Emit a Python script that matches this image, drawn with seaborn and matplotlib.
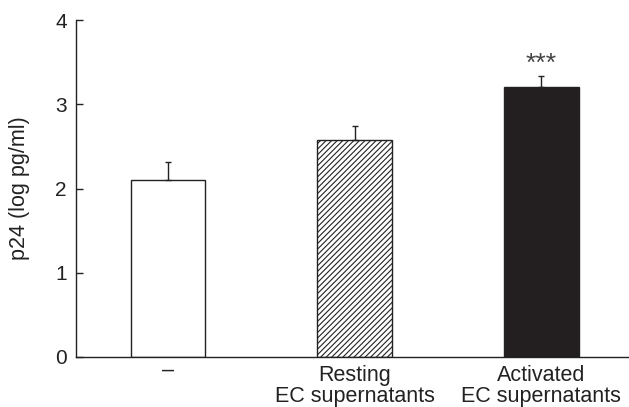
import matplotlib
matplotlib.use("Agg")
import matplotlib.pyplot as plt
import matplotlib.transforms as mtransforms
import seaborn as sns
import pandas as pd
import numpy as np

categories = ["\u2013", "Resting\nEC supernatants", "Activated\nEC supernatants"]
means = [2.10, 2.575, 3.21]
errors = [0.22, 0.17, 0.13]
fills = ["white", "white", "#231f20"]
hatches = ["", "//////", ""]
yticks = [0, 1, 2, 3, 4]
signif = "***"

sns.set_theme(style="ticks")
plt.rcParams["font.family"] = ["Liberation Sans", "DejaVu Sans"]
plt.rcParams["hatch.linewidth"] = 0.8

df = pd.DataFrame({"cat": categories, "val": means})

fig = plt.figure(figsize=(6.29, 4.07), dpi=100)
ax = fig.add_axes([76 / 629, 50 / 407, 1 - 76 / 629, 337 / 407])

sns.barplot(data=df, x="cat", y="val", ax=ax, width=0.4, errorbar=None,
            edgecolor="#222222", linewidth=1.0)
for bar, fc, h in zip(ax.patches, fills, hatches):
    bar.set_facecolor(fc)
    bar.set_hatch(h)
    bar.set_edgecolor("#222222")

x = np.arange(len(categories))
ax.errorbar(x, means, yerr=[np.zeros(len(errors)), errors], fmt="none",
            ecolor="#222222", elinewidth=1.0, capsize=2.5, capthick=1.0, zorder=1)

ax.text(2, means[2] + errors[2] + 0.055, signif, ha="center", va="baseline",
        fontsize=19, color="#444444")

ax.set_ylim(0, 4)
ax.set_xlim(-0.493, 2.47)
ax.set_yticks(yticks)
ax.set_yticklabels([str(t) for t in yticks])
ax.set_xlabel("")
ax.set_ylabel("p24 (log pg/ml)", fontsize=15.5, color="#222222", labelpad=18)
ax.tick_params(axis="y", direction="in", labelsize=15, length=5, width=1,
               colors="#222222", pad=6.5)
ax.tick_params(axis="x", labelsize=15.5, length=0, colors="#222222", pad=6)
for i, lab in enumerate(ax.get_xticklabels()):
    lab.set_linespacing(1.0)
    if i == 0:
        lab.set_transform(lab.get_transform() +
                          mtransforms.ScaledTranslation(0, 6 / 100, fig.dpi_scale_trans))
for s in ["top", "right"]:
    ax.spines[s].set_visible(False)
for s in ["left", "bottom"]:
    ax.spines[s].set_color("#222222")
    ax.spines[s].set_linewidth(1.0)
ax.set_facecolor("white")
fig.patch.set_facecolor("white")

fig.savefig("out.png", dpi=100)
